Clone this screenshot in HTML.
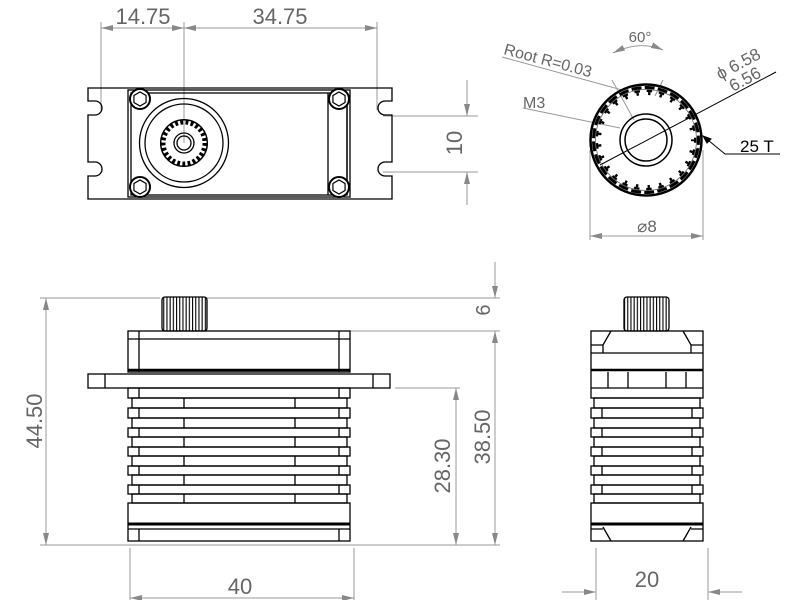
<!DOCTYPE html>
<html><head><meta charset="utf-8"><style>
html,body{margin:0;padding:0;background:#fff}
svg{display:block}
text{font-family:"Liberation Sans",sans-serif;fill:#666}
</style></head><body>
<svg width="800" height="600" viewBox="0 0 800 600" xmlns="http://www.w3.org/2000/svg">
<defs>
<marker id="a" markerWidth="12" markerHeight="6" refX="12" refY="3" orient="auto-start-reverse" markerUnits="userSpaceOnUse"><path d="M0,0 L12,3 L0,6z" fill="#888"/></marker>
<pattern id="sp" x="0" y="0" width="3.2" height="10" patternUnits="userSpaceOnUse"><rect x="0" y="0" width="1.1" height="10" fill="#000"/></pattern>
<polygon id="hex" points="6.06,3.5 0,7 -6.06,3.5 -6.06,-3.5 0,-7 6.06,-3.5" fill="none" stroke="#000" stroke-width="1.2"/>
</defs>
<g stroke="#999" stroke-width="1" fill="none">
<line x1="101" y1="22" x2="101" y2="110"/><line x1="184" y1="22" x2="184" y2="143"/><line x1="377" y1="22" x2="377" y2="110"/>
<line x1="101" y1="28" x2="184" y2="28" marker-start="url(#a)" marker-end="url(#a)"/>
<line x1="184" y1="28" x2="377" y2="28" marker-start="url(#a)" marker-end="url(#a)"/>
<line x1="383" y1="116" x2="478" y2="116"/><line x1="383" y1="172" x2="478" y2="172"/>
<line x1="467" y1="80" x2="467" y2="116" marker-end="url(#a)"/>
<line x1="467" y1="205" x2="467" y2="172" marker-end="url(#a)"/>
<line x1="590" y1="150" x2="590" y2="240"/><line x1="703" y1="150" x2="703" y2="240"/>
<line x1="590" y1="236" x2="703" y2="236" marker-start="url(#a)" marker-end="url(#a)"/>
<line x1="502" y1="57" x2="622" y2="90"/>
<line x1="523" y1="108" x2="620" y2="128"/>
<line x1="612" y1="80" x2="634" y2="120"/><line x1="663" y1="80" x2="655" y2="96"/>
<path d="M613,53 Q640,40 663,50" marker-start="url(#a)" marker-end="url(#a)"/>
<line x1="40" y1="298" x2="160" y2="298"/><line x1="207" y1="298" x2="500" y2="298"/>
<line x1="40" y1="545" x2="500" y2="545"/>
<line x1="350" y1="331" x2="500" y2="331"/>
<line x1="395" y1="388" x2="460" y2="388"/>
<line x1="46" y1="298" x2="46" y2="545" marker-start="url(#a)" marker-end="url(#a)"/>
<line x1="456" y1="388" x2="456" y2="545" marker-start="url(#a)" marker-end="url(#a)"/>
<line x1="495" y1="331" x2="495" y2="545" marker-start="url(#a)" marker-end="url(#a)"/>
<line x1="495" y1="262" x2="495" y2="298" marker-end="url(#a)"/>
<line x1="130" y1="548" x2="130" y2="600"/><line x1="354" y1="548" x2="354" y2="600"/>
<line x1="130" y1="598" x2="354" y2="598" marker-start="url(#a)" marker-end="url(#a)"/>
<line x1="596" y1="548" x2="596" y2="600"/><line x1="708" y1="548" x2="708" y2="600"/>
<line x1="562" y1="592" x2="596" y2="592" marker-end="url(#a)"/>
<line x1="742" y1="592" x2="708" y2="592" marker-end="url(#a)"/>
</g>
<g stroke="#000" stroke-width="1" fill="none">
<line x1="600" y1="165" x2="776" y2="72"/>
<polyline points="703,136 725,154 780,154"/>
<path d="M703,136 l8,3 l-4,4z" fill="#000"/>
</g>
<text x="143" y="24" font-size="22" text-anchor="middle">14.75</text>
<text x="280" y="24" font-size="22" text-anchor="middle">34.75</text>
<text transform="translate(462,143) rotate(-90)" font-size="22" text-anchor="middle">10</text>
<text x="640" y="42" font-size="15" text-anchor="middle">60°</text>
<text transform="translate(503,54) rotate(15)" font-size="16">Root R=0.03</text>
<text x="523" y="108" font-size="16">M3</text>
<text transform="translate(720,80) rotate(-28)" font-size="17">ϕ 6.58</text>
<text transform="translate(733,92) rotate(-28)" font-size="17">6.56</text>
<text x="740" y="152" font-size="17" style="fill:#000">25 T</text>
<text x="647" y="232" font-size="17" text-anchor="middle">⌀8</text>
<text transform="translate(42,421) rotate(-90)" font-size="22" text-anchor="middle">44.50</text>
<text transform="translate(450,466) rotate(-90)" font-size="22" text-anchor="middle">28.30</text>
<text transform="translate(490,437) rotate(-90)" font-size="22" text-anchor="middle">38.50</text>
<text transform="translate(490,310) rotate(-90)" font-size="20" text-anchor="middle">6</text>
<text x="240" y="594" font-size="22" text-anchor="middle">40</text>
<text x="647" y="587" font-size="22" text-anchor="middle">20</text>

<g stroke="#000" stroke-width="1.3" fill="none">
<path d="M88,88 H392 V101 H385 A7,7 0 0 0 385,115 H392 V162 H385 A7,7 0 0 0 385,176 H392 V199 H88 V176 H95 A7,7 0 0 0 95,162 H88 V115 H95 A7,7 0 0 0 95,101 H88 Z"/>
<rect x="128" y="90" width="222" height="107"/>
<rect x="131" y="93" width="216" height="102"/>
<line x1="328" y1="93" x2="328" y2="195"/><line x1="347" y1="93" x2="347" y2="195"/>
<circle cx="184" cy="143" r="44.5"/><circle cx="184" cy="143" r="39"/>
<circle cx="184" cy="143" r="21" stroke-width="5" stroke-dasharray="2.9 2.38"/>
<circle cx="184" cy="143" r="23.3" stroke-width="1.5"/>
<circle cx="184" cy="143" r="10"/><circle cx="184" cy="143" r="7"/>
<circle cx="140" cy="99" r="10" stroke-width="2" fill="#fff"/><circle cx="339" cy="99" r="10" stroke-width="2" fill="#fff"/>
<circle cx="140" cy="187" r="10" stroke-width="2" fill="#fff"/><circle cx="339" cy="187" r="10" stroke-width="2" fill="#fff"/>
<use href="#hex" x="140" y="99"/><use href="#hex" x="339" y="99"/><use href="#hex" x="140" y="187"/><use href="#hex" x="339" y="187"/>

<circle cx="646" cy="140" r="55.5" stroke-width="2.5"/>
<circle cx="646" cy="140" r="52.5" stroke-width="3" stroke-dasharray="9.9 3.3" stroke-dashoffset="4.95"/>
<circle cx="646" cy="140" r="49.5" stroke-width="3" stroke-dasharray="5.6 6.84" stroke-dashoffset="2.8"/>
<circle cx="646" cy="140" r="46.5" stroke-width="3" stroke-dasharray="2.4 9.29" stroke-dashoffset="1.2"/>
<circle cx="646" cy="140" r="50.5" stroke-width="0.8" stroke="#666"/>
<circle cx="646" cy="140" r="26" stroke-width="1.5"/>
<circle cx="646" cy="140" r="21" stroke-width="1.5"/>

<rect x="162" y="297" width="45" height="34" rx="3" fill="url(#sp)"/>
<rect x="128" y="331" width="222" height="41"/>
<line x1="128" y1="339" x2="350" y2="339"/>
<line x1="139" y1="331" x2="139" y2="372"/><line x1="339" y1="331" x2="339" y2="372"/>
<line x1="128" y1="370" x2="350" y2="370" stroke-width="2.5"/>
<rect x="88" y="374" width="302" height="14"/>
<line x1="105" y1="374" x2="105" y2="388"/><line x1="373" y1="374" x2="373" y2="388"/>
<rect x="128" y="388" width="222" height="10"/>
<line x1="139" y1="388" x2="139" y2="398"/><line x1="339" y1="388" x2="339" y2="398"/>
<rect x="132" y="398" width="215" height="10"/><rect x="132" y="418" width="215" height="10"/><rect x="132" y="437" width="215" height="10"/><rect x="132" y="456" width="215" height="10"/><rect x="132" y="475" width="215" height="10"/><rect x="132" y="494" width="215" height="9"/>
<rect x="128" y="408" width="222" height="10"/><rect x="128" y="428" width="222" height="9"/><rect x="128" y="447" width="222" height="9"/><rect x="128" y="466" width="222" height="9"/><rect x="128" y="485" width="222" height="9"/>
<path d="M184,398V408M184,418V428M184,437V447M184,456V466M184,475V485M184,494V503"/>
<path d="M295,398V408M295,418V428M295,437V447M295,456V466M295,475V485M295,494V503"/>
<path d="M139,408V418M139,428V437M139,447V456M139,466V475M139,485V494"/>
<path d="M339,408V418M339,428V437M339,447V456M339,466V475M339,485V494"/>
<rect x="128" y="503" width="222" height="38"/>
<line x1="128" y1="524" x2="350" y2="524" stroke-width="3"/>
<line x1="128" y1="529" x2="350" y2="529"/>
<line x1="139" y1="529" x2="139" y2="541"/><line x1="339" y1="529" x2="339" y2="541"/>

<rect x="624" y="297" width="45" height="34" rx="3" fill="url(#sp)"/>
<rect x="591" y="331" width="112" height="67"/>
<line x1="591" y1="370" x2="703" y2="370" stroke-width="2.5"/>
<line x1="591" y1="388" x2="703" y2="388"/>
<line x1="591" y1="353" x2="703" y2="353"/>
<path d="M611,331 L603,345 H591 M683,331 L691,345 H703 M603,345 L603,353 M691,345 L691,353"/>
<line x1="608" y1="372" x2="608" y2="388"/><line x1="628" y1="372" x2="628" y2="388"/><line x1="666" y1="372" x2="666" y2="388"/><line x1="686" y1="372" x2="686" y2="388"/>
<rect x="594" y="398" width="106" height="10"/><rect x="594" y="418" width="106" height="10"/><rect x="594" y="437" width="106" height="10"/><rect x="594" y="456" width="106" height="10"/><rect x="594" y="475" width="106" height="10"/><rect x="594" y="494" width="106" height="9"/>
<rect x="591" y="408" width="112" height="10"/><rect x="591" y="428" width="112" height="9"/><rect x="591" y="447" width="112" height="9"/><rect x="591" y="466" width="112" height="9"/><rect x="591" y="485" width="112" height="9"/>
<path d="M602,408V418M602,428V437M602,447V456M602,466V475M602,485V494"/>
<path d="M692,408V418M692,428V437M692,447V456M692,466V475M692,485V494"/>
<rect x="591" y="503" width="112" height="38"/>
<line x1="591" y1="524" x2="703" y2="524" stroke-width="3"/>
<path d="M603,527 L611,541 M691,527 L683,541 M591,529 H603 M691,529 H703"/>
</g>
</svg>
</body></html>
